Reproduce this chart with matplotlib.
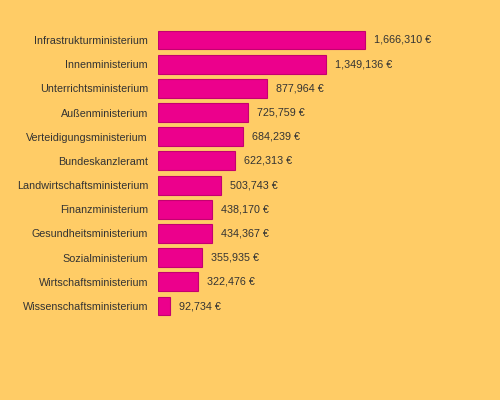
import matplotlib
matplotlib.use("Agg")
import matplotlib.pyplot as plt

ministerien = ["Infrastrukturministerium", "Innenministerium", "Unterrichtsministerium",
               "Außenministerium", "Verteidigungsministerium", "Bundeskanzleramt",
               "Landwirtschaftsministerium", "Finanzministerium", "Gesundheitsministerium",
               "Sozialministerium", "Wirtschaftsministerium", "Wissenschaftsministerium"]
betraege = [1666310, 1349136, 877964, 725759, 684239, 622313,
            503743, 438170, 434367, 355935, 322476, 92734]

bg = "#FFCC66"
fig = plt.figure(figsize=(5, 4), dpi=100, facecolor=bg)
# axes placed in pixels: left edge 158, width 332, bars from y=28 to y=318
ax = fig.add_axes([158 / 500, (400 - 318.1) / 400, 332 / 500, 290.2 / 400])
ax.set_facecolor(bg)

y = list(range(len(ministerien)))
ax.barh(y, betraege, height=0.78, color="#EC008C", edgecolor="#C4006F", linewidth=0.8)
ax.set_xlim(0, 332 / 207 * 1666310)
ax.set_ylim(len(ministerien) - 0.5, -0.5)

for yi, v in zip(y, betraege):
    ax.annotate(f"{v:,} €", (v, yi), xytext=(9, 0), textcoords="offset pixels",
                va="center", ha="left", fontsize=7.75, color="#333333",
                family="Liberation Sans")

ax.set_yticks(y)
ax.set_yticklabels(ministerien, fontsize=7.75, color="#333333", family="Liberation Sans")
ax.tick_params(axis="y", length=0, pad=7.2)
ax.set_xticks([])
for s in ax.spines.values():
    s.set_visible(False)

fig.savefig("out.png", dpi=100, facecolor=bg)
